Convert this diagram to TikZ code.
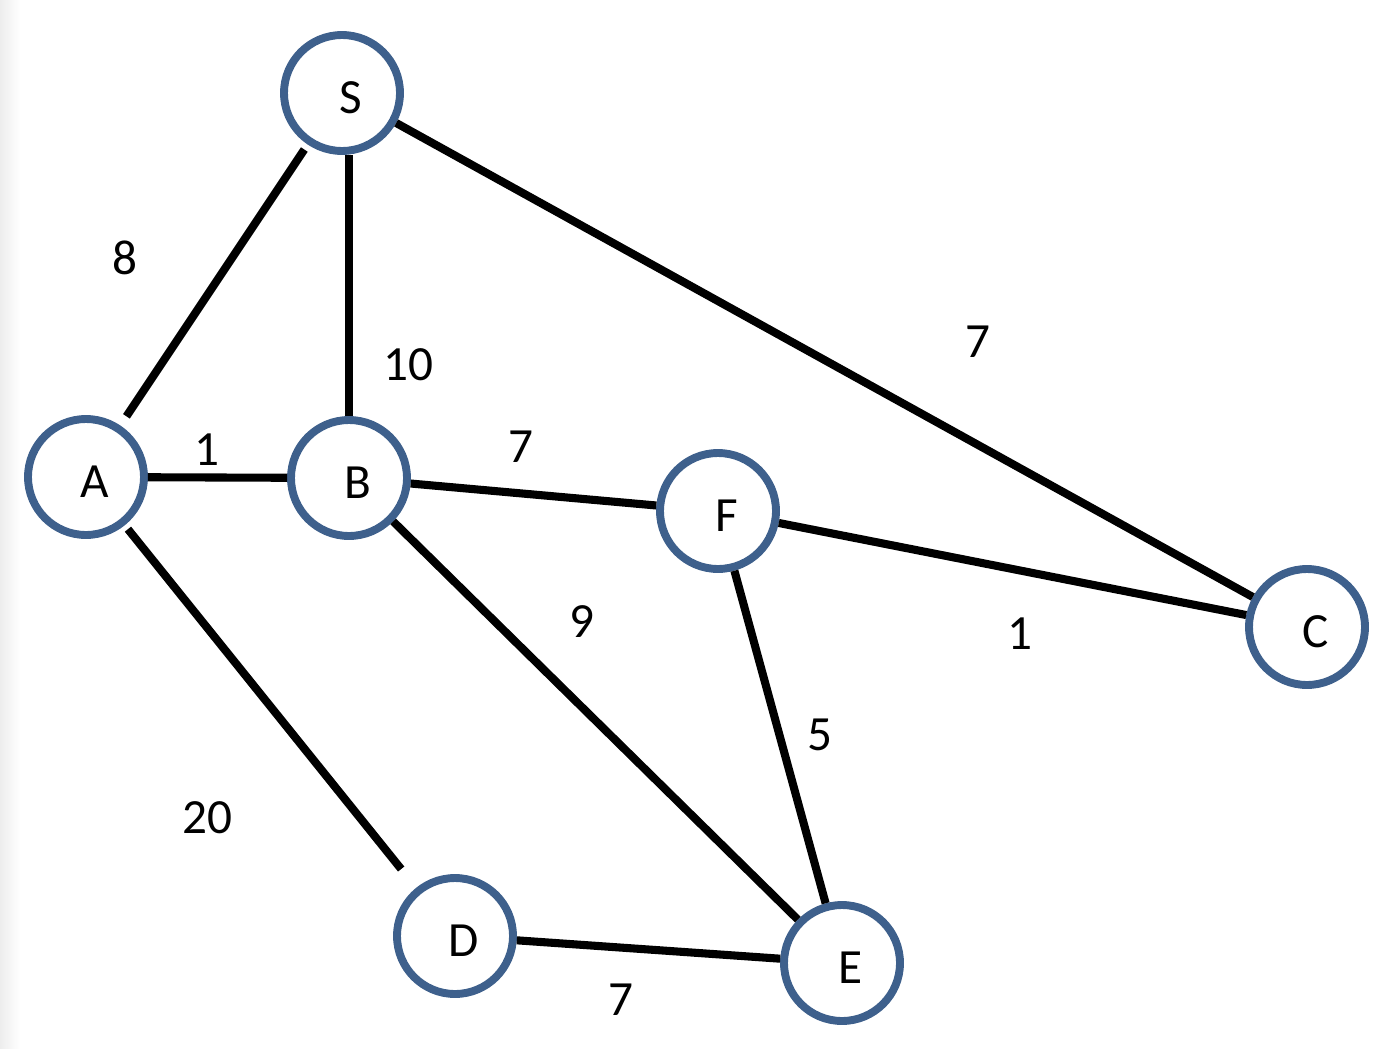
\documentclass[tikz,border=0pt]{standalone}
\usepackage{fontspec}
\setmainfont{Carlito}
\usepackage{xcolor}
\definecolor{vtxc}{RGB}{62,96,140}
% letter sits a bit right of and below the circle centre
\newcommand{\vtxlbl}[1]{\hspace*{0.34cm}\rule{0pt}{0.82cm}#1}

\begin{document}
\begin{tikzpicture}[x=0.02cm,y=-0.02cm,
  vtx/.style={circle,draw=vtxc,line width=4.5pt,fill=white,minimum size=2.32cm,
    inner sep=0pt,font=\fontsize{28}{32}\selectfont},
  edg/.style={line width=4.6pt,black},
  wt/.style={font=\fontsize{28}{32}\selectfont}]
\useasboundingbox (0,0) rectangle (1396,1048);
\shade[left color=black!7,right color=white] (0,0) rectangle (20,1048);
% ---- vertices ----
\node[vtx] (s) at (342,93)  {\vtxlbl{S}};
\node[vtx] (a) at (86,477)  {\vtxlbl{A}};
\node[vtx] (b) at (349,478) {\vtxlbl{B}};
\node[vtx] (f) at (718,511) {\vtxlbl{F}};
\node[vtx] (c) at (1307,627){\vtxlbl{C}};
\node[vtx] (d) at (455,936) {\vtxlbl{D}};
\node[vtx] (e) at (842,963) {\vtxlbl{E}};
% ---- edges ----
\draw[edg,shorten <=0.12cm,shorten >=0.22cm] (s) -- (a);
\draw[edg] (s.south) ++(7,0) coordinate (sb) -- (sb |- b.north);
\draw[edg] (s) -- (c);
\draw[edg] (a) -- (b);
\draw[edg,shorten <=0.1cm,shorten >=0.48cm] (a) -- (d);
\draw[edg] (b) -- (f);
\draw[edg] (b) -- (e);
\draw[edg] (f) -- (c);
\draw[edg] (f) -- (e);
\draw[edg] (d) -- (e);
% ---- weights ----
\node[wt] (w_sa) at (125,258)  {8};
\node[wt] (w_sb) at (408,365)  {10};
\node[wt] (w_sc) at (978,342)  {7};
\node[wt] (w_ab) at (207,450)  {1};
\node[wt] (w_bf) at (521,447)  {7};
\node[wt] (w_be) at (582,622)  {9};
\node[wt] (w_fc) at (1020,634) {1};
\node[wt] (w_fe) at (820,735)  {5};
\node[wt] (w_ad) at (207,818)  {20};
\node[wt] (w_de) at (621,1000) {7};
\end{tikzpicture}
\end{document}
